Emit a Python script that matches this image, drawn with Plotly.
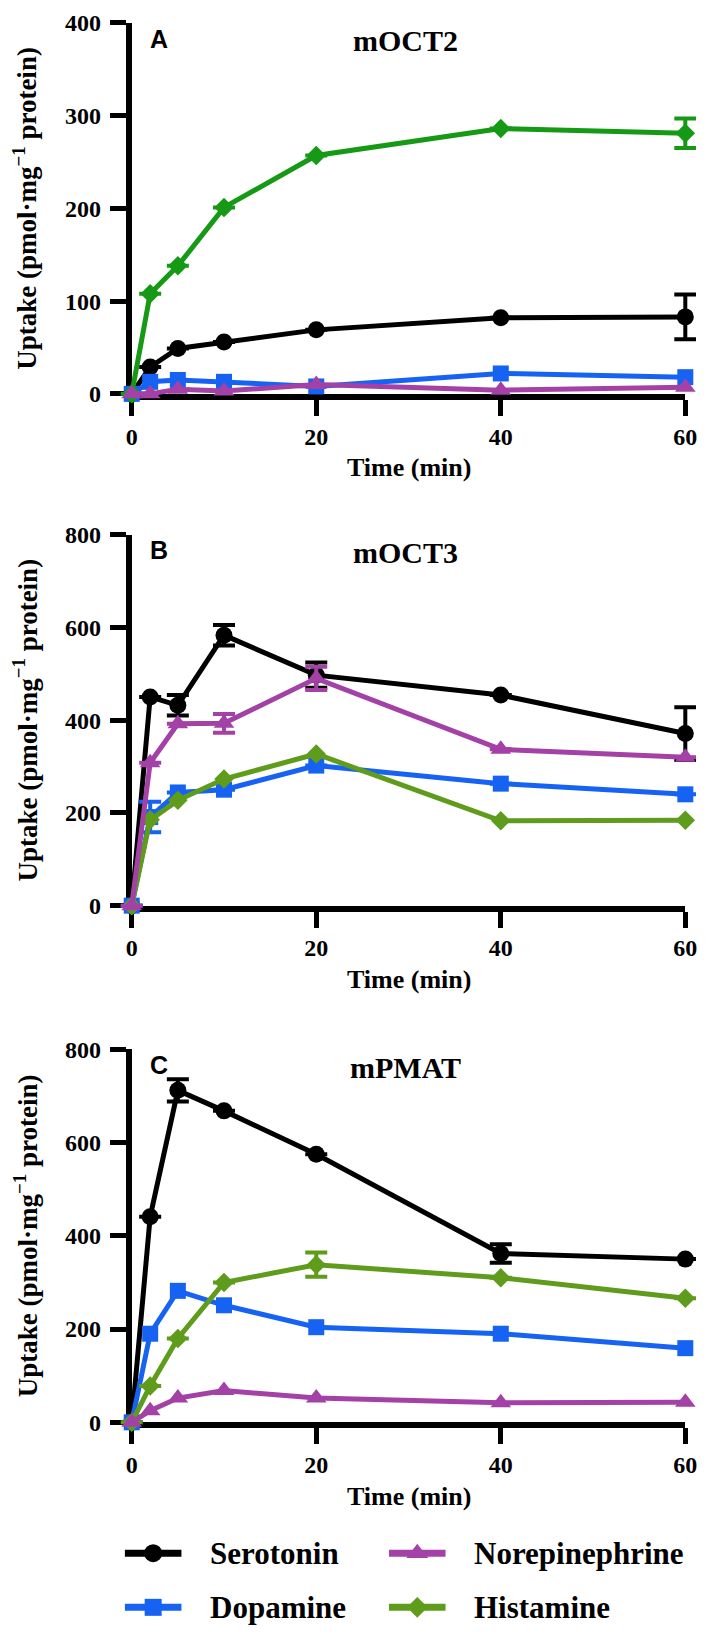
import plotly.graph_objects as go

# ---------------- data ----------------
time_min = [0, 2, 5, 10, 20, 40, 60]
x_ticks = [0, 20, 40, 60]

# Panel A: mOCT2
a_serotonin = [0, 29, 49, 56, 69, 82, 83]
a_serotonin_err = [0, 0, 0, 0, 0, 0, 24]
a_norepinephrine = [0, 0, 5, 3, 10, 4, 7]
a_dopamine = [0, 13, 15, 13, 8, 22, 18]
a_histamine = [0, 108, 138, 201, 257, 286, 281]
a_histamine_err = [0, 0, 0, 0, 0, 0, 16]

# Panel B: mOCT3
b_serotonin = [0, 450, 432, 583, 497, 454, 371]
b_serotonin_err = [0, 0, 22, 22, 27, 0, 57]
b_norepinephrine = [0, 308, 392, 393, 490, 337, 320]
b_norepinephrine_err = [0, 0, 0, 20, 25, 0, 0]
b_dopamine = [0, 191, 244, 250, 302, 263, 240]
b_dopamine_err = [0, 33, 0, 0, 0, 0, 0]
b_histamine = [0, 185, 227, 273, 327, 183, 184]

# Panel C: mPMAT
c_serotonin = [0, 441, 712, 668, 575, 362, 350]
c_serotonin_err = [0, 0, 24, 0, 0, 20, 0]
c_norepinephrine = [0, 25, 52, 68, 52, 42, 43]
c_dopamine = [0, 190, 282, 251, 204, 190, 159]
c_histamine = [0, 78, 180, 300, 338, 310, 266]
c_histamine_err = [0, 0, 0, 0, 26, 0, 0]

panel_titles = ["mOCT2", "mOCT3", "mPMAT"]
panel_letters = ["A", "B", "C"]
series_names = ["Serotonin", "Norepinephrine", "Dopamine", "Histamine"]

# ---------------- style ----------------
W, H = 709, 1641
BLACK = "#000000"
BLUE = "#1662f3"
PURPLE = "#a341a7"
GREEN_A = "#169a16"
GREEN = "#5f9c1c"
SERIF = "Liberation Serif"
SANS = "Liberation Sans"

X_LEFT, X_RIGHT = 129, 697
X_MAX = 60
panels_px = [(10, 387, 400, 100), (530, 907, 800, 200), (1053, 1432, 800, 200)]

def fx(p):
    return p / W

def fy(p):
    return 1 - p / H

symbols = {"Serotonin": ("circle", 17), "Norepinephrine": ("triangle-up", 18),
           "Dopamine": ("square", 16), "Histamine": ("diamond", 15)}

panel_data = [
    {"Serotonin": (a_serotonin, a_serotonin_err), "Dopamine": (a_dopamine, None),
     "Histamine": (a_histamine, a_histamine_err), "Norepinephrine": (a_norepinephrine, None)},
    {"Serotonin": (b_serotonin, b_serotonin_err), "Dopamine": (b_dopamine, b_dopamine_err),
     "Histamine": (b_histamine, None), "Norepinephrine": (b_norepinephrine, b_norepinephrine_err)},
    {"Serotonin": (c_serotonin, c_serotonin_err), "Dopamine": (c_dopamine, None),
     "Histamine": (c_histamine, c_histamine_err), "Norepinephrine": (c_norepinephrine, None)},
]
draw_order = ["Serotonin", "Dopamine", "Histamine", "Norepinephrine"]

fig = go.Figure()
layout = dict(width=W, height=H, margin=dict(l=0, r=0, t=0, b=0),
              paper_bgcolor="white", plot_bgcolor="rgba(0,0,0,0)", showlegend=False)
annotations = []

tick_font = dict(family=SERIF, size=24, color="black", weight="bold")

for i, (top, bot, ymax, dy) in enumerate(panels_px):
    n_vis = i + 1          # visible axes
    n_dat = i + 4          # same scale, wider clip region (so end caps are not cut)
    sv = "" if n_vis == 1 else str(n_vis)
    sd = str(n_dat)
    # visible axes
    layout["xaxis" + sv] = dict(domain=[fx(X_LEFT), fx(X_RIGHT)], range=[0, X_MAX], anchor="y" + sv,
                                tickvals=x_ticks, ticks="outside", ticklen=16, tickwidth=5,
                                tickcolor="black", showline=True, linewidth=6, linecolor="black",
                                showgrid=False, zeroline=False, fixedrange=True, tickfont=tick_font)
    layout["yaxis" + sv] = dict(domain=[fy(bot), fy(top)], range=[0, ymax], anchor="x" + sv,
                                tickvals=list(range(0, ymax + 1, dy)), ticks="outside", ticklen=16,
                                tickwidth=5, tickcolor="black", showline=True, linewidth=6,
                                linecolor="black", showgrid=False, zeroline=False, fixedrange=True,
                                ticklabelstandoff=4, tickfont=tick_font)
    fig.add_trace(go.Scatter(x=[], y=[], xaxis="x" + sv, yaxis="y" + sv, showlegend=False))
    # data axes: identical mapping, extended by a few pixels
    kx = X_MAX / (X_RIGHT - X_LEFT)
    ext_l, ext_r = 20, min(11, W - 1 - X_RIGHT)
    ky = ymax / (bot - top)
    ext_t, ext_b = min(10, top - 1), 20
    layout["xaxis" + sd] = dict(domain=[fx(X_LEFT - ext_l), fx(X_RIGHT + ext_r)],
                                range=[-ext_l * kx, X_MAX + ext_r * kx], anchor="y" + sd,
                                visible=False, fixedrange=True)
    layout["yaxis" + sd] = dict(domain=[fy(bot + ext_b), fy(top - ext_t)],
                                range=[-ext_b * ky, ymax + ext_t * ky], anchor="x" + sd,
                                visible=False, fixedrange=True)

    colors = {"Serotonin": BLACK, "Dopamine": BLUE, "Norepinephrine": PURPLE,
              "Histamine": GREEN_A if i == 0 else GREEN}
    for name in draw_order:
        vals, err = panel_data[i][name]
        sym, size = symbols[name]
        tr = dict(x=time_min, y=vals, mode="lines+markers", name=name, showlegend=False,
                  xaxis="x" + sd, yaxis="y" + sd, cliponaxis=False,
                  line=dict(color=colors[name], width=5),
                  marker=dict(symbol=sym, size=size, color=colors[name]))
        if err is not None:
            tr["error_y"] = dict(type="data", array=err, visible=True, color=colors[name],
                                 thickness=4, width=11)
        fig.add_trace(go.Scatter(**tr))

    cy = (top + bot) / 2
    annotations.append(dict(x=fx(20), y=fy(cy), xref="paper", yref="paper",
                            text="Uptake (pmol·mg<sup>−1</sup> protein)", textangle=-90,
                            showarrow=False, xanchor="center", yanchor="middle",
                            font=dict(family=SERIF, size=27, color="black", weight="bold")))
    annotations.append(dict(x=fx(413), y=fy(bot + 75), xref="paper", yref="paper",
                            text="Time (min)", showarrow=False, xanchor="center", yanchor="middle",
                            font=dict(family=SERIF, size=26, color="black", weight="bold")))
    annotations.append(dict(x=fx(410), y=fy(top + 18), xref="paper", yref="paper",
                            text=panel_titles[i], showarrow=False, xanchor="center", yanchor="middle",
                            font=dict(family=SERIF, size=30, color="black", weight="bold")))
    annotations.append(dict(x=fx(157), y=fy(top + 16), xref="paper", yref="paper",
                            text=panel_letters[i], showarrow=False, xanchor="center", yanchor="middle",
                            font=dict(family=SANS, size=25, color="black", weight="bold")))

# legend on a hidden pixel axis
leg_items = [("Serotonin", BLACK, 122, 1565), ("Norepinephrine", PURPLE, 393, 1565),
             ("Dopamine", BLUE, 122, 1620), ("Histamine", GREEN, 393, 1620)]
for name, col, x0, yy in leg_items:
    sym, size = symbols[name]
    fig.add_trace(go.Scatter(x=[x0, x0 + 29, x0 + 58], y=[yy, yy, yy], mode="lines",
                             line=dict(color=col, width=7), showlegend=False,
                             xaxis="x7", yaxis="y7", cliponaxis=False, hoverinfo="skip"))
    fig.add_trace(go.Scatter(x=[x0 + 29], y=[yy], mode="markers",
                             marker=dict(symbol=sym, size=size + 1, color=col), showlegend=False,
                             xaxis="x7", yaxis="y7", cliponaxis=False, hoverinfo="skip"))
    annotations.append(dict(x=x0 + 85, y=yy, xref="x7", yref="y7", text=name, showarrow=False,
                            xanchor="left", yanchor="middle",
                            font=dict(family=SERIF, size=31, color="black", weight="bold")))

layout["xaxis7"] = dict(domain=[0, 1], range=[0, W], anchor="y7", visible=False, fixedrange=True)
layout["yaxis7"] = dict(domain=[0, fy(1531)], range=[H, 1531], anchor="x7", visible=False,
                        fixedrange=True)
layout["annotations"] = annotations

fig.update_layout(**layout)
fig.write_html("out.html", config={"displayModeBar": False},
               post_script="document.body.style.margin='0';")
